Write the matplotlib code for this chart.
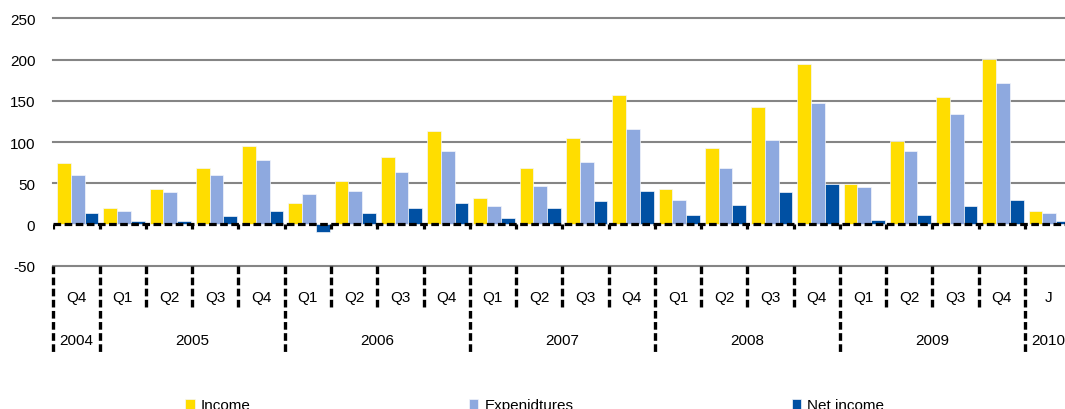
## quarterly income / expenditures bar chart
## target : rebuild the chart and save out.png

import matplotlib
matplotlib.use('Agg')
from matplotlib.pyplot import figure, rcParams
from numpy import arange

## data
quarters = ['Q4',
			'Q1','Q2','Q3','Q4',
			'Q1','Q2','Q3','Q4',
			'Q1','Q2','Q3','Q4',
			'Q1','Q2','Q3','Q4',
			'Q1','Q2','Q3','Q4',
			'J']
years    = ['2004','2005','2006','2007','2008','2009','2010']
year_len = [1,4,4,4,4,4,1]

income = [75,20,43,68,95,26,53,82,113,32,68,105,157,43,93,142,194,49,101,155,201,16]
expend = [60,16,39,60,78,37,41,64,89,22,47,76,116,30,68,103,147,45,89,134,172,14]
net    = [14,4,4,10,16,-9,14,20,26,8,20,28,41,12,24,39,49,5,12,22,30,4]

labels = ['Income','Expenidtures','Net income']
colors = ['#FFDD00','#8EA9DF','#0050A3']

y_ticks = [-50,0,50,100,150,200,250]

## style
rcParams['font.family'] = ['Liberation Sans','DejaVu Sans']
rcParams['font.size'] = 11
rcParams['axes.unicode_minus'] = False
rcParams['lines.scale_dashes'] = False

fig = figure(figsize=(10.65,4.10),dpi=100)
fig.patch.set_facecolor('white')

## plot area runs past the right edge of the picture (last group is clipped)
ax = fig.add_axes([0.0501,0.3495,1.0059-0.0501,0.6034])

n  = len(quarters)
x  = arange(n)
bw = 0.297
off = 0.08

for i,(val,lab,col) in enumerate(zip([income,expend,net],labels,colors)):
	ax.bar(x+off+i*bw,val,width=bw,align='edge',color=col,label=lab,
		   edgecolor='#f4f6fb',linewidth=0.5,zorder=3)

ax.set_xlim(0,n)
ax.set_ylim(y_ticks[0],y_ticks[-1])
ax.set_yticks(y_ticks)
ax.set_xticks([])
ax.tick_params(axis='y',length=0,pad=13,labelsize=11)

for s in ax.spines.values():
	s.set_visible(False)

## grid lines
for yv in y_ticks:
	if yv == 0: continue
	ax.axhline(yv,color='#858585',lw=1.5,zorder=1,clip_on=False)

## dashed category axis at zero, with small tick hooks
dash = (5.5,2.5)
ax.axhline(0,color='black',lw=2.3,dashes=dash,zorder=5)
ax.vlines(arange(n),-6.,0,color='black',lw=2.3,zorder=5)

## multi-level category labels below the plot
trans = ax.get_xaxis_transform()
q_bot, y_bot = -0.169, -0.349
q_lab, y_lab = -0.1245, -0.300

starts = [0]
for l in year_len[:-1]:
	starts.append(starts[-1]+l)

for b in range(n):
	bot = y_bot if b in starts else q_bot
	ax.plot([b,b],[0,bot],transform=trans,color='black',lw=2.4,dashes=dash,
			clip_on=False,solid_capstyle='butt',dash_capstyle='butt')

for i,q in enumerate(quarters):
	ax.text(i+0.5,q_lab,q,transform=trans,ha='center',va='center',fontsize=11)

for st,l,yr in zip(starts,year_len,years):
	xc = st+l/2.
	if l == 1: xc = st+0.5
	ax.text(xc,y_lab,yr,transform=trans,ha='center',va='center',fontsize=11)

## legend, cut off at the bottom like the source picture
fig.legend(loc='center left',bbox_to_anchor=(0.167,0.009),bbox_transform=fig.transFigure,
		   ncol=3,frameon=False,borderpad=0.,handlelength=0.6,handleheight=0.6,
		   handletextpad=0.4,columnspacing=14.3,fontsize=11)

fig.savefig('out.png',dpi=100,facecolor='white')
